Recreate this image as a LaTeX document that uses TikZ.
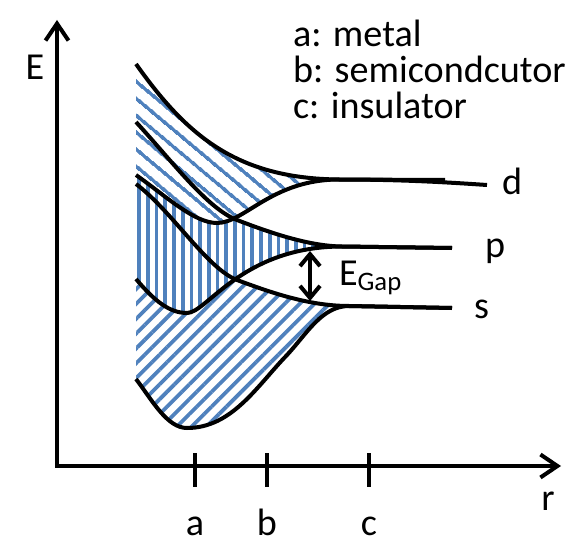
\documentclass[tikz,border=0pt]{standalone}
\usepackage{fontspec}
\setmainfont{Carlito}
\usepackage{tikz}
\usetikzlibrary{arrows.meta,patterns.meta}

\definecolor{bandblue}{RGB}{79,129,189}

\begin{document}
\begin{tikzpicture}[line width=0.08cm,font=\fontsize{21.7}{26}\selectfont,inner sep=0pt,
  >={Straight Barb[length=0.34cm,width=0.46cm]},
  hatched/.style 2 args={preaction={fill=white},pattern={Lines[angle=#1,distance=#2,line width=0.075cm]},pattern color=bandblue}]
\useasboundingbox (-1.14,-1.56) rectangle (10.24,9.32);
\coordinate (O) at (0,0);
\coordinate (ytop) at (0,8.92);
\coordinate (xend) at (10.08,0);
\coordinate (dmerge) at (5.64,5.73);
\coordinate (dend) at (8.6,5.62);
\coordinate (pmerge) at (5.7,4.39);
\coordinate (pend) at (7.9,4.36);
\coordinate (smerge) at (5.84,3.2);
\coordinate (send) at (7.9,3.16);
\coordinate (gaptop) at (5.06,4.3);
\coordinate (gapbot) at (5.06,3.3);
\draw[<->] (ytop) -- (O) -- (xend);
\node[anchor=base] (Elab) at (-0.44,7.72) {E};
\node[anchor=base] (rlab) at (9.82,-0.88) {r};
\foreach \x/\l in {2.76/a,4.2/b,6.24/c}{
  \draw (\x,0.26) -- (\x,-0.42);
  \node[anchor=base] (tick\l) at (\x,-1.38) {\l};
}
\path[hatched={45}{0.21cm}] (1.58,1.74) .. controls (1.9,1.32) and (2.2,0.76) .. (2.6,0.76) .. controls (3.5,0.76) and (4.0,1.6) .. (4.6,2.22) .. controls (5.0,2.65) and (5.3,3.2) .. (smerge) .. controls (5.0,3.2) and (4.2,3.5) .. (3.6,3.72) .. controls (3.0,3.95) and (2.3,5.1) .. (1.58,5.64) -- cycle;
\path[hatched={90}{0.174cm}] (1.58,3.74) .. controls (1.95,3.3) and (2.25,3.06) .. (2.6,3.06) .. controls (3.0,3.06) and (3.7,4.39) .. (pmerge) .. controls (5.0,4.4) and (4.2,4.69) .. (3.6,4.92) .. controls (3.0,5.15) and (2.3,6.1) .. (1.58,6.88) -- cycle;
\path[hatched={-40}{0.26cm}] (1.58,5.82) .. controls (2.2,5.38) and (2.75,4.86) .. (3.2,4.86) .. controls (3.75,4.86) and (4.3,5.73) .. (dmerge) .. controls (3.6,5.75) and (2.6,6.6) .. (1.58,8.04) -- cycle;
\draw (1.58,8.04) .. controls (2.6,6.6) and (3.6,5.75) .. (dmerge) -- (7.76,5.72);
\draw (1.58,5.82) .. controls (2.2,5.38) and (2.75,4.86) .. (3.2,4.86) .. controls (3.75,4.86) and (4.3,5.73) .. (dmerge) .. controls (7,5.73) and (8,5.66) .. (dend);
\draw (1.58,6.88) .. controls (2.3,6.1) and (3.0,5.15) .. (3.6,4.92) .. controls (4.2,4.69) and (5.0,4.4) .. (pmerge) -- (pend);
\draw (1.58,3.74) .. controls (1.95,3.3) and (2.25,3.06) .. (2.6,3.06) .. controls (3.0,3.06) and (3.7,4.39) .. (pmerge) -- (pend);
\draw (1.58,5.64) .. controls (2.3,5.1) and (3.0,3.95) .. (3.6,3.72) .. controls (4.2,3.5) and (5.0,3.2) .. (smerge) -- (send);
\draw (1.58,1.74) .. controls (1.9,1.32) and (2.2,0.76) .. (2.6,0.76) .. controls (3.5,0.76) and (4.0,1.6) .. (4.6,2.22) .. controls (5.0,2.65) and (5.3,3.2) .. (smerge) -- (send);
\node[anchor=base west] (dlab) at (8.86,5.42) {d};
\node[anchor=base west] (plab) at (8.52,4.18) {p};
\node[anchor=base west] (slab) at (8.3,2.96) {s};
\draw[{Straight Barb[length=0.24cm,width=0.4cm]}-{Straight Barb[length=0.24cm,width=0.4cm]}] (gaptop) -- (gapbot);
\node[anchor=base west] (gaplab) at (5.6,3.62) {E\textsubscript{Gap}};
\node[anchor=base west] (lega) at (4.68,8.38) {a: metal};
\node[anchor=base west] (legb) at (4.68,7.66) {b: semicondcutor};
\node[anchor=base west] (legc) at (4.68,6.94) {c: insulator};
\end{tikzpicture}
\end{document}
